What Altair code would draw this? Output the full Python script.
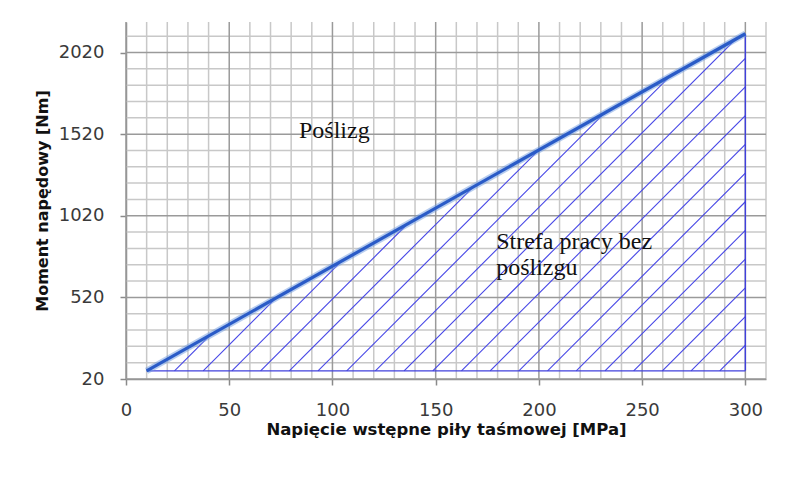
import altair as alt
import pandas as pd
import numpy as np

# ---- data ----
x_major = [0, 50, 100, 150, 200, 250, 300]
y_major = [20, 520, 1020, 1520, 2020]
x_minor = [v for v in range(0, 311, 10) if v % 50 != 0]
y_minor = [v for v in range(20, 2121, 100) if (v - 20) % 500 != 0]
x_domain = [0, 310]
y_domain = [20, 2207]

line_x = [10, 300]          # MPa
line_y = [70, 2135]         # Nm

# hatch pattern (style): start points on the bottom edge, spacing in MPa
hatch_first = 287.6
hatch_step = 13.9
hatch_count = 20

labels_text = ["Poślizg", "Strefa pracy bez\npoślizgu"]
labels_x = [83.8, 179.3]
labels_y = [1495, 815]

W, H = 640, 357

# ---- derived tables ----
px_per_x = W / (x_domain[1] - x_domain[0])
px_per_y = H / (y_domain[1] - y_domain[0])
s = px_per_x / px_per_y                      # 45 degree slope in data units
m = (line_y[1] - line_y[0]) / (line_x[1] - line_x[0])
x_a, y_a = line_x[0], line_y[0]
x_r = line_x[1]

rows = []
for k in range(hatch_count):
    x0 = hatch_first - hatch_step * k
    xe = (s * x0 - m * x_a) / (s - m)
    if xe > x_r:
        xe = x_r
    ye = y_a + s * (xe - x0)
    rows.append({"x": x0, "y": y_a, "x2": xe, "y2": ye})
hatch_df = pd.DataFrame(rows)

border_df = pd.DataFrame([
    {"x": line_x[0], "y": line_y[0], "x2": line_x[1], "y2": line_y[0]},
    {"x": line_x[1], "y": line_y[0], "x2": line_x[1], "y2": line_y[1]},
])
line_df = pd.DataFrame({"x": line_x, "y": line_y})
lab_df = pd.DataFrame({"t": labels_text, "x": labels_x, "y": labels_y})

SANS = "DejaVu Sans"
xs = alt.Scale(domain=x_domain, nice=False, zero=False)
ys = alt.Scale(domain=y_domain, nice=False, zero=False)
xa = alt.Axis(values=x_major, format="d", grid=False, tickSize=6, tickColor="#8a8a8a", tickWidth=1.5,
              domainColor="#8a8a8a", domainWidth=1.5,
              labelFont=SANS, labelFontSize=18, labelColor="#3a3a3a",
              labelBaseline="alphabetic", labelPadding=30, labelFlush=False,
              title="Napięcie wstępne piły taśmowej [MPa]", titleFont=SANS,
              titleFontSize=16.5, titleFontWeight="bold", titleColor="#111111",
              titleBaseline="alphabetic", titleX=W / 2, titleY=55, titleAlign="center")
ya = alt.Axis(values=y_major, format="d", grid=False, tickSize=6, tickColor="#8a8a8a", tickWidth=1.5,
              domainColor="#8a8a8a", domainWidth=1.5,
              labelFont=SANS, labelFontSize=18, labelColor="#3a3a3a",
              labelBaseline="middle", labelPadding=16, labelFlush=False,
              title="Moment napędowy [Nm]", titleFont=SANS,
              titleFontSize=16, titleFontWeight="bold", titleColor="#111111",
              titleBaseline="alphabetic", titleAngle=270, titleX=-79, titleY=H / 2,
              titleAlign="center")

X = lambda f: alt.X(f, type="quantitative", scale=xs, axis=xa)
Y = lambda f: alt.Y(f, type="quantitative", scale=ys, axis=ya)

vmin = alt.Chart(pd.DataFrame({"x": x_minor})).mark_rule(color="#c8c8c8", strokeWidth=1.5).encode(x=X("x"))
hmin = alt.Chart(pd.DataFrame({"y": y_minor})).mark_rule(color="#c8c8c8", strokeWidth=1.5).encode(y=Y("y"))
vmaj = alt.Chart(pd.DataFrame({"x": x_major})).mark_rule(color="#9a9a9a", strokeWidth=1.5).encode(x=X("x"))
hmaj = alt.Chart(pd.DataFrame({"y": y_major})).mark_rule(color="#9a9a9a", strokeWidth=1.5).encode(y=Y("y"))

hatch = alt.Chart(hatch_df).mark_rule(color="#4646e6", strokeWidth=1.1).encode(
    x=X("x"), y=Y("y"), x2="x2:Q", y2="y2:Q")
border = alt.Chart(border_df).mark_rule(color="#4040dd", strokeWidth=1.4).encode(
    x=X("x"), y=Y("y"), x2="x2:Q", y2="y2:Q")

halo = alt.Chart(line_df).mark_line(color="#6f9be0", strokeWidth=6.5, opacity=0.5).encode(x=X("x"), y=Y("y"))
core = alt.Chart(line_df).mark_line(color="#2a5bc7", strokeWidth=3.2).encode(x=X("x"), y=Y("y"))

texts = alt.Chart(lab_df).mark_text(font="Liberation Serif", fontSize=24, align="left",
                                    baseline="alphabetic", lineBreak="\n", lineHeight=26,
                                    color="#111111").encode(x=X("x"), y=Y("y"), text="t:N")

chart = alt.layer(vmin, hmin, vmaj, hmaj, hatch, border, halo, core, texts).properties(
    width=W, height=H,
    autosize=alt.AutoSizeParams(type="none"),
    padding={"left": 118, "top": 14, "right": 33, "bottom": 94},
    background="white",
).configure_view(strokeWidth=0)

chart.save("out.html", embed_options={"renderer": "svg", "actions": False})
